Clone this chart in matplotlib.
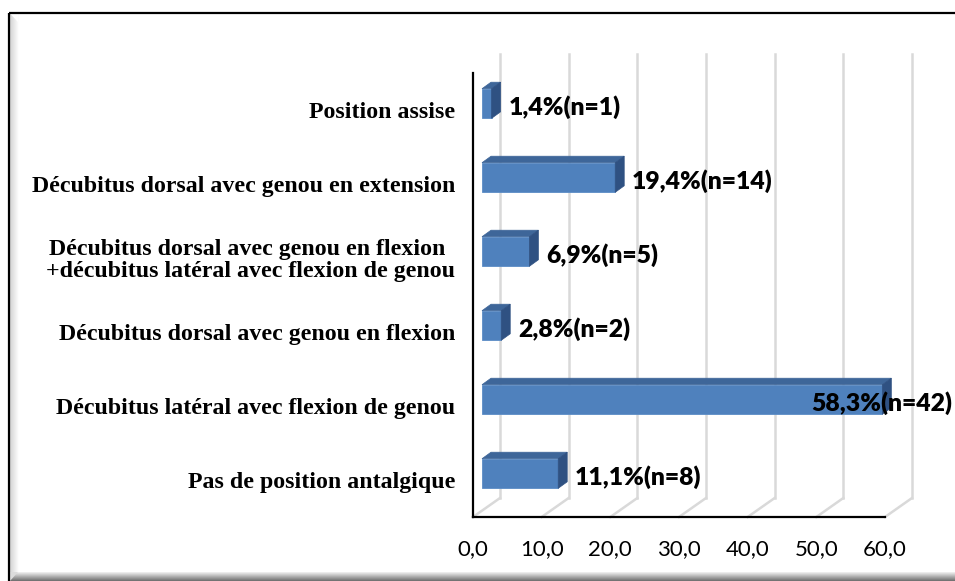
import numpy as np
import matplotlib
matplotlib.use("Agg")
import matplotlib.pyplot as plt
from matplotlib.patches import Polygon, Rectangle
from matplotlib.ticker import FuncFormatter

# Positions antalgiques (pourcentage et effectif)
categories = [
    "Position assise",
    "Décubitus dorsal avec genou en extension",
    "Décubitus dorsal avec genou en flexion \n+décubitus latéral avec flexion de genou",
    "Décubitus dorsal avec genou en flexion",
    "Décubitus latéral avec flexion de genou",
    "Pas de position antalgique",
]
percentages = [1.4, 19.4, 6.9, 2.8, 58.3, 11.1]
counts = [1, 14, 5, 2, 42, 8]
x_ticks = [0, 10, 20, 30, 40, 50, 60]

W, H, DPI = 955, 581, 100
fig = plt.figure(figsize=(W / DPI, H / DPI), dpi=DPI)
fig.patch.set_facecolor("white")

# ---- chart-area frame with a bevelled edge ----
bg = fig.add_axes([0, 0, 1, 1], zorder=-5)
bg.set_xlim(0, W)
bg.set_ylim(H, 0)
bg.axis("off")
left_grad = np.linspace(0, 1, 32)[None, :]
bg.imshow(left_grad, extent=(9.5, 18, 573, 14), cmap=matplotlib.colors.LinearSegmentedColormap.from_list(
    "lg", ["#d4d4d4", "#ffffff"]), aspect="auto", zorder=1)
bg.add_patch(Polygon([(9.5, 13), (18, 22), (18, 13)], closed=True, facecolor="white", edgecolor="none", zorder=2))
bot_grad = np.linspace(0, 1, 32)[:, None]
bg.imshow(bot_grad, extent=(9.5, W, 581, 572), cmap=matplotlib.colors.LinearSegmentedColormap.from_list(
    "bg", ["#f2f2f2", "#6e6e6e"]), aspect="auto", zorder=1)
bg.add_patch(Polygon([(9.5, 581), (9.5, 572), (18, 572)], closed=True, facecolor="#dcdcdc", edgecolor="none", zorder=2))
bg.plot([8.5, W], [12.5, 12.5], color="black", lw=1.6, zorder=3, solid_capstyle="butt")
bg.plot([8.5, 8.5], [12.5, H], color="black", lw=1.6, zorder=3, solid_capstyle="butt")

# ---- main axes (front plane of the 3-D box) ----
x0, x1, ytop, ybot = 473, 885, 73, 517
ax = fig.add_axes([x0 / W, 1 - ybot / H, (x1 - x0) / W, (ybot - ytop) / H])
ax.set_facecolor("none")
n = len(categories)
ypos = np.arange(n)
ax.set_xlim(0, 60)
ax.set_ylim(n - 0.5, -0.5)

for s in ["top", "right"]:
    ax.spines[s].set_visible(False)
for s in ["left", "bottom"]:
    ax.spines[s].set_color("black")
    ax.spines[s].set_linewidth(1.6)
    ax.spines[s].set_zorder(5)


def shift(x, y, dx, dy):
    """Move a data point by (dx, dy) screen pixels (dy positive = up)."""
    p = ax.transData.transform((x, y)) + np.array([dx, dy]) * fig.dpi / DPI
    return ax.transData.inverted().transform(p)


# depth offsets in pixels
wall = (27, 19)        # back wall
front = (9, 6.5)       # bar front face
back = (18, 13)        # bar back face

grid_col = "#d9d9d9"
for t in x_ticks:
    b0 = shift(t, n - 0.5, *wall)
    b1 = shift(t, -0.5, *wall)
    ax.plot([b0[0], b1[0]], [b0[1], b1[1]], color=grid_col, lw=1.8, clip_on=False, zorder=0)
    f0 = (t, n - 0.5)
    ax.plot([f0[0], b0[0]], [f0[1], b0[1]], color=grid_col, lw=1.8, clip_on=False, zorder=0)

c_front, c_top, c_side = "#4f81bd", "#3e6699", "#2f5182"
bh = 0.4
for y, v in zip(ypos, percentages):
    yt, yb = y - bh / 2, y + bh / 2
    fa = shift(0, yb, *front)
    fb = shift(v, yt, *front)
    ax.add_patch(Rectangle((fa[0], fb[1]), fb[0] - fa[0], fa[1] - fb[1],
                           facecolor=c_front, edgecolor="#5b8cc6", lw=0.6, zorder=3))
    top = [shift(0, yt, *front), shift(v, yt, *front), shift(v, yt, *back), shift(0, yt, *back)]
    ax.add_patch(Polygon(top, closed=True, facecolor=c_top, edgecolor=c_top, lw=0.5, zorder=3, clip_on=False))
    side = [shift(v, yt, *front), shift(v, yb, *front), shift(v, yb, *back), shift(v, yt, *back)]
    ax.add_patch(Polygon(side, closed=True, facecolor=c_side, edgecolor=c_side, lw=0.5, zorder=3, clip_on=False))

# value labels: beside the bar, or pulled back inside the chart when there is no room
renderer = fig.canvas.get_renderer()
for y, v, c in zip(ypos, percentages, counts):
    label = f"{v:.1f}".replace(".", ",") + f"%(n={c})"
    p = shift(v, y, 26, 2.5)
    t = ax.text(p[0], p[1], label, ha="left", va="center", fontsize=17.8,
                fontweight="heavy", family="Lato", color="black", zorder=6, clip_on=False)
    bb = t.get_window_extent(renderer)
    limit = W - 3
    if bb.x1 > limit:
        q = ax.transData.inverted().transform((limit, 0))
        t.set_x(q[0])
        t.set_ha("right")

ax.set_xticks(x_ticks)
ax.xaxis.set_major_formatter(FuncFormatter(lambda v, _: f"{v:.1f}".replace(".", ",")))
ax.tick_params(axis="x", length=0, pad=16, labelsize=16)
for lab in ax.get_xticklabels():
    lab.set_family("Lato")

ax.set_yticks(ypos)
ax.set_yticklabels(categories)
ax.tick_params(axis="y", length=0, pad=13)
for lab in ax.get_yticklabels():
    lab.set_family("Liberation Serif")
    lab.set_fontweight("bold")
    lab.set_fontsize(17.2)
    lab.set_multialignment("center")
    lab.set_linespacing(1.0)

fig.savefig("out.png", dpi=DPI)
